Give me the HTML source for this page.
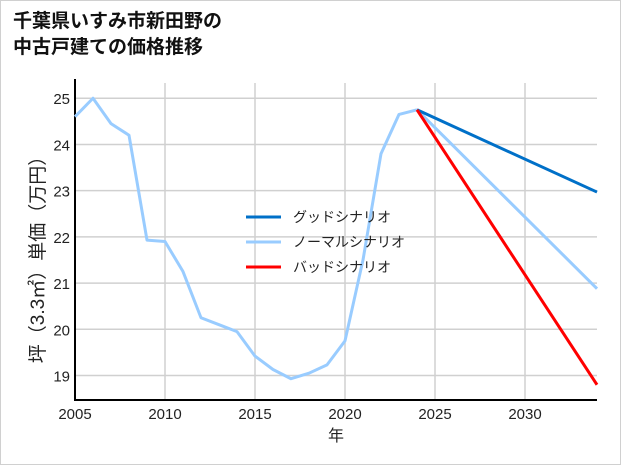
<!DOCTYPE html>
<html><head><meta charset="utf-8"><style>
body{margin:0;background:#fff;}
#wrap{position:relative;width:619px;height:463px;border:1px solid #d0d0d0;background:#fff;font-family:"Liberation Sans","Noto Sans CJK JP",sans-serif;}
#title{position:absolute;left:12px;top:8px;font-size:19px;font-weight:bold;line-height:26px;color:#111;}
svg{position:absolute;left:0;top:0;}
</style></head><body>
<div id="wrap">
<div id="title">千葉県いすみ市新田野の<br>中古戸建ての価格推移</div>
<svg id="chart" width="621" height="465"></svg>
</div>
<script>
const years=[2005,2006,2007,2008,2009,2010,2011,2012,2013,2014,2015,2016,2017,2018,2019,2020,2021,2022,2023,2024];
const actual=[24.6,25.0,24.45,24.2,21.93,21.9,21.25,20.25,20.1,19.95,19.42,19.13,18.93,19.05,19.23,19.75,21.5,23.8,24.65,24.75];
const projYears=[2024,2034];
const good=[24.75,22.97];
const normal=[24.75,20.88];
const bad=[24.75,18.8];
const xTicks=[2005,2010,2015,2020,2025,2030];
const yTicks=[19,20,21,22,23,24,25];
const legendNames=["グッドシナリオ","ノーマルシナリオ","バッドシナリオ"];
const NS="http://www.w3.org/2000/svg";
const svg=document.getElementById('chart');
const X0=74,X1=596,Y0=399,Y1=82;
const xmin=2005,xmax=2034,ymin=18.47,ymax=25.33;
const xs=v=>X0+(v-xmin)/(xmax-xmin)*(X1-X0);
const ys=v=>Y0-(v-ymin)/(ymax-ymin)*(Y0-Y1);
function mk(t,a){const e=document.createElementNS(NS,t);for(const k in a)e.setAttribute(k,a[k]);svg.appendChild(e);return e;}
xTicks.forEach(t=>{
 const l=mk('line',{x1:xs(t),x2:xs(t),y1:Y1,y2:Y0,stroke:'#d0d0d0','stroke-width':1.5});
 
 
 const tx=mk('text',{x:xs(t),y:418,'text-anchor':'middle','font-size':15,fill:'#222'});tx.textContent=t;
 
 
});
yTicks.forEach(t=>{
 const l=mk('line',{x1:X0,x2:X1,y1:ys(t),y2:ys(t),stroke:'#d0d0d0','stroke-width':1.5});
 
 
 const tx=mk('text',{x:69,y:ys(t)+6,'text-anchor':'end','font-size':15,fill:'#222'});tx.textContent=t;
 
 
});
const ax=mk('path',{d:`M${X0} ${Y1-4} V${Y0} H${X1}`,fill:'none',stroke:'#000','stroke-width':2});


function line(xv,yv,col,name){
 const p=mk('polyline',{points:xv.map((x,i)=>xs(x)+','+ys(yv[i])).join(' '),fill:'none',stroke:col,'stroke-width':3,'stroke-linejoin':'round'});
 
 
}
line(years,actual,'#99ccff','actual-price-line');
line(projYears,normal,'#99ccff','normal-scenario-line');
line(projYears,good,'#0070c8','good-scenario-line');
line(projYears,bad,'#ff0000','bad-scenario-line');
const cols=['#0070c8','#99ccff','#ff0000'];
legendNames.forEach((n,i)=>{
 const y=216+i*25;
 const l=mk('line',{x1:245,x2:280,y1:y,y2:y,stroke:cols[i],'stroke-width':3});
 
 
 const t=mk('text',{x:292,y:y+5,'font-size':14,fill:'#222'});t.textContent=n;
 
 
});
const xt=mk('text',{x:335,y:440,'text-anchor':'middle','font-size':16,fill:'#222'});xt.textContent='年';


const yt=mk('text',{x:0,y:0,'text-anchor':'middle','font-size':19,fill:'#222',transform:'translate(43,254) rotate(-90)'});yt.textContent='坪（3.3㎡）単価（万円）';


</script>
</body></html>
